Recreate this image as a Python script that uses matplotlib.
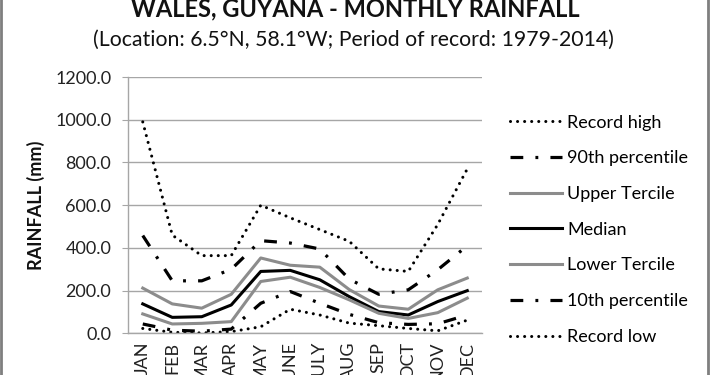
import matplotlib
matplotlib.use("Agg")
import matplotlib.pyplot as plt
from matplotlib.patches import Rectangle

plt.rcParams['font.family'] = ['Lato', 'DejaVu Sans']

months = ["JAN", "FEB", "MAR", "APR", "MAY", "JUNE", "JULY", "AUG", "SEP", "OCT", "NOV", "DEC"]
record_high = [990, 460, 364, 364, 600, 541, 486, 431, 302, 290, 510, 770]
p90 = [458, 246, 246, 300, 434, 423, 395, 254, 183, 204, 298, 410]
upper_tercile = [212, 138, 118, 183, 353, 319, 310, 205, 128, 113, 204, 259]
median = [138, 75, 78, 133, 290, 295, 251, 172, 102, 86, 149, 200]
lower_tercile = [91, 44, 47, 55, 243, 263, 215, 157, 94, 70, 97, 165]
p10 = [44, 15, 10, 20, 141, 196, 141, 89, 50, 42, 45, 86]
record_low = [23, 5, 2, 8, 31, 113, 86, 48, 36, 23, 12, 62]
yticks = [0, 200, 400, 600, 800, 1000, 1200]

fig = plt.figure(figsize=(7.1, 3.75), dpi=100)
ax = fig.add_axes([0.1803, 0.111, 0.4986, 0.6835])

x = list(range(len(months)))
dot_style = dict(color="black", lw=2.2, linestyle=(0, (0.01, 2.3)), dash_capstyle="round")
dashdot_style = dict(color="black", lw=2.3, linestyle=(0, (4.0, 3.8, 0.9, 3.8)), dash_capstyle="butt")
gray = "#8c8c8c"

ax.plot(x, record_high, label="Record high", **dot_style)
ax.plot(x, p90, label="90th percentile", **dashdot_style)
ax.plot(x, upper_tercile, label="Upper Tercile", color=gray, lw=2.2)
ax.plot(x, median, label="Median", color="black", lw=2.2)
ax.plot(x, lower_tercile, label="Lower Tercile", color=gray, lw=2.2)
ax.plot(x, p10, label="10th percentile", **dashdot_style)
ax.plot(x, record_low, label="Record low", **dot_style)

ax.set_xlim(-0.5, 11.5)
ax.set_ylim(0, 1200)
ax.set_yticks(yticks)
ax.set_yticklabels([f"{v:.1f}" for v in yticks], fontsize=13, color="#222222")
ax.set_xticks(x)
ax.set_xticklabels(months, rotation=90, fontsize=13, color="#222222")
ax.tick_params(axis="x", length=0, pad=6)
ax.tick_params(axis="y", length=4, direction="out", color="#a6a6a6", pad=8)
ax.grid(axis="y", color="#a6a6a6", lw=1.0)
ax.set_axisbelow(True)
for s in ["top", "right"]:
    ax.spines[s].set_visible(False)
for s in ["left", "bottom"]:
    ax.spines[s].set_color("#a6a6a6")
    ax.spines[s].set_linewidth(1.0)

ax.set_ylabel("RAINFALL (mm)", fontsize=13, fontweight="bold", labelpad=7, color="#111111")

leg = ax.legend(loc="upper left", bbox_to_anchor=(1.079, 0.853), frameon=False,
                fontsize=13, handlelength=2.9, handletextpad=0.28, labelspacing=1.09,
                borderaxespad=0, borderpad=0)

fig.text(0.5, 0.976, "WALES, GUYANA - MONTHLY RAINFALL", ha="center", va="center",
         fontsize=17, fontweight="bold", color="#111111")
fig.text(0.498, 0.893, "(Location: 6.5°N, 58.1°W; Period of record: 1979-2014)", ha="center",
         va="center", fontsize=15.3, color="#111111")

fig.add_artist(Rectangle((0.002, -0.01), 0.995, 1.02, transform=fig.transFigure,
                         fill=False, edgecolor="#7f7f7f", lw=2.0))

fig.savefig("out.png", dpi=100)
